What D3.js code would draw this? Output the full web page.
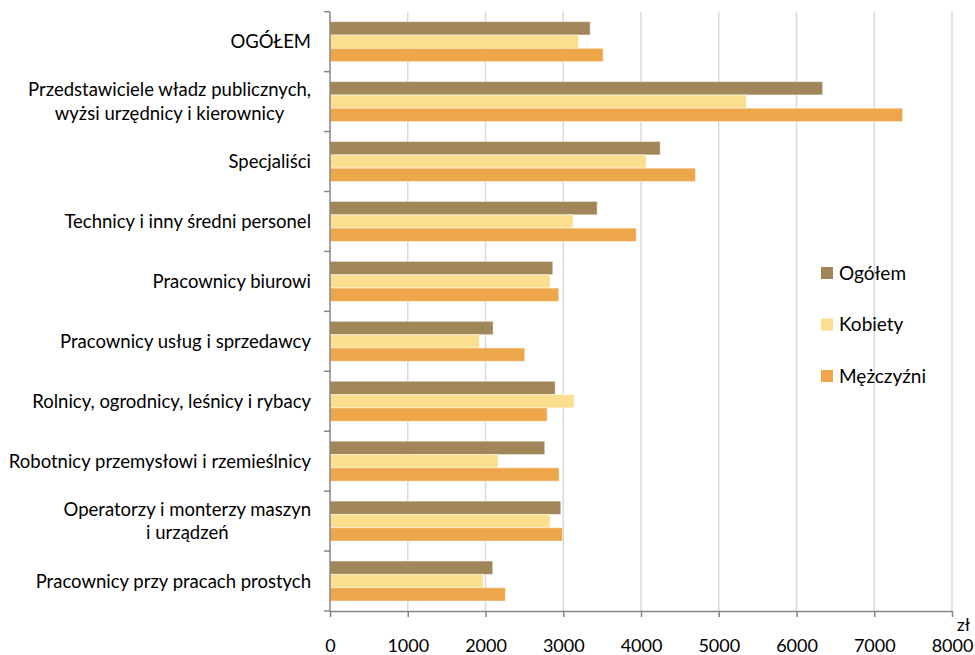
<!DOCTYPE html>
<html>
<head>
<meta charset="utf-8">
<script src="https://cdn.jsdelivr.net/npm/d3@7"></script>
<style>
  body { margin: 0; background: #fff; }
  text { font-family: Lato, "Liberation Sans", sans-serif; fill: #000; }
</style>
</head>
<body>
<div class="chart"></div>
<script>
// Przeciętne wynagrodzenie wg grup zawodów

var categories = [
  "OGÓŁEM",
  "Przedstawiciele władz publicznych,\nwyżsi urzędnicy i kierownicy",
  "Specjaliści",
  "Technicy i inny średni personel",
  "Pracownicy biurowi",
  "Pracownicy usług i sprzedawcy",
  "Rolnicy, ogrodnicy, leśnicy i rybacy",
  "Robotnicy przemysłowi i rzemieślnicy",
  "Operatorzy i monterzy maszyn\ni urządzeń",
  "Pracownicy przy pracach prostych"
];

var seriesNames = ["Ogółem", "Kobiety", "Mężczyźni"];
var seriesColors = ["#a08658", "#fbdf8f", "#eda64a"];

var ogolem =     [3346, 6336, 4247, 3436, 2865, 2098, 2896, 2762, 2968, 2093];
var kobiety =    [3196, 5354, 4067, 3127, 2831, 1921, 3140, 2162, 2831, 1969];
var mezczyzni =  [3513, 7365, 4701, 3938, 2942, 2505, 2793, 2947, 2990, 2256];

var xTicks = [0, 1000, 2000, 3000, 4000, 5000, 6000, 7000, 8000];

var svgWidth = 975;
var svgHeight = 655;

var margin = { top: 11.7, right: 23, bottom: 44, left: 330 };
var width = svgWidth - margin.left - margin.right;
var height = svgHeight - margin.top - margin.bottom;

var svg = d3.select(".chart")
  .append("svg")
  .attr("width", svgWidth)
  .attr("height", svgHeight);

var chartGroup = svg.append("g")
  .attr("transform", `translate(${margin.left}, ${margin.top})`);

var data = categories.map(function(c, i) {
  return { cat: c, values: [ogolem[i], kobiety[i], mezczyzni[i]] };
});

// scales
var xScale = d3.scaleLinear()
  .domain([0, 8000])
  .range([0, width]);

var y0 = d3.scaleBand()
  .domain(categories)
  .range([0, height])
  .padding(0);

var y1 = d3.scaleBand()
  .domain(seriesNames)
  .range([0, y0.bandwidth()])
  .paddingInner(0)
  .paddingOuter(0.75);

// gridlines
chartGroup.append("g")
  .selectAll("line")
  .data(xTicks.slice(1))
  .enter()
  .append("line")
  .attr("x1", d => xScale(d))
  .attr("x2", d => xScale(d))
  .attr("y1", 0)
  .attr("y2", height)
  .attr("stroke", "#d9d9d9")
  .attr("stroke-width", 1.5);

// bars
var groups = chartGroup.selectAll(".cat")
  .data(data)
  .enter()
  .append("g")
  .attr("transform", d => `translate(0, ${y0(d.cat)})`);

groups.selectAll("rect")
  .data(d => d.values.map((v, j) => ({ name: seriesNames[j], value: v, color: seriesColors[j] })))
  .enter()
  .append("rect")
  .attr("x", xScale(0))
  .attr("y", d => y1(d.name))
  .attr("width", d => xScale(d.value) - xScale(0))
  .attr("height", y1.bandwidth())
  .attr("fill", d => d.color)
  .attr("stroke", "#fff")
  .attr("stroke-opacity", 0.45)
  .attr("stroke-width", 1);

// x axis
var bottomAxis = d3.axisBottom(xScale)
  .tickValues(xTicks)
  .tickSize(6)
  .tickSizeOuter(0)
  .tickPadding(22)
  .tickFormat(d3.format("d"));

var xAxis = chartGroup.append("g")
  .attr("transform", `translate(0, ${height})`)
  .call(bottomAxis);

xAxis.select(".domain").attr("stroke", "#868686").attr("stroke-width", 1.5);
xAxis.selectAll(".tick line").attr("stroke", "#868686").attr("stroke-width", 1.5);
xAxis.selectAll(".tick text")
  .attr("font-size", 18)
  .attr("font-family", "Lato, 'Liberation Sans', sans-serif")
  .attr("fill", "#000");

// y axis line + ticks at band edges
chartGroup.append("line")
  .attr("x1", 0).attr("x2", 0)
  .attr("y1", 0).attr("y2", height)
  .attr("stroke", "#868686")
  .attr("stroke-width", 1.5);

var edges = categories.map(c => y0(c)).concat([height]);
chartGroup.append("g")
  .selectAll("line")
  .data(edges)
  .enter()
  .append("line")
  .attr("x1", -6).attr("x2", 0)
  .attr("y1", d => d).attr("y2", d => d)
  .attr("stroke", "#868686")
  .attr("stroke-width", 1.5);

// category labels: block right-aligned at the axis, lines centred inside it
var labelRight = -19;
var labels = chartGroup.selectAll(".catlabel")
  .data(categories)
  .enter()
  .append("text")
  .attr("class", "catlabel")
  .attr("text-anchor", "middle")
  .attr("font-size", 18.5);

labels.each(function(d) {
  var lines = d.split("\n");
  var t = d3.select(this);
  var lh = 23.5;
  lines.forEach(function(line, k) {
    t.append("tspan")
      .attr("x", 0)
      .attr("y", (k - (lines.length - 1) / 2) * lh)
      .attr("dy", "0.35em")
      .text(line);
  });
  var maxW = d3.max(t.selectAll("tspan").nodes(), n => n.getComputedTextLength());
  t.attr("transform", `translate(${labelRight - maxW / 2}, ${y0(d) + y0.bandwidth() / 2})`);
});

// unit label
svg.append("text")
  .attr("x", 957)
  .attr("y", 631)
  .attr("font-size", 17)
  .text("zł");

// legend
var legend = svg.append("g")
  .attr("transform", "translate(821, 267)");

var legendItems = legend.selectAll("g")
  .data(seriesNames)
  .enter()
  .append("g")
  .attr("transform", (d, i) => `translate(0, ${i * 51.5})`);

legendItems.append("rect")
  .attr("width", 12)
  .attr("height", 12)
  .attr("fill", (d, i) => seriesColors[i]);

legendItems.append("text")
  .attr("x", 18)
  .attr("y", 6)
  .attr("dy", "0.35em")
  .attr("font-size", 19)
  .text(d => d);
</script>
</body>
</html>
